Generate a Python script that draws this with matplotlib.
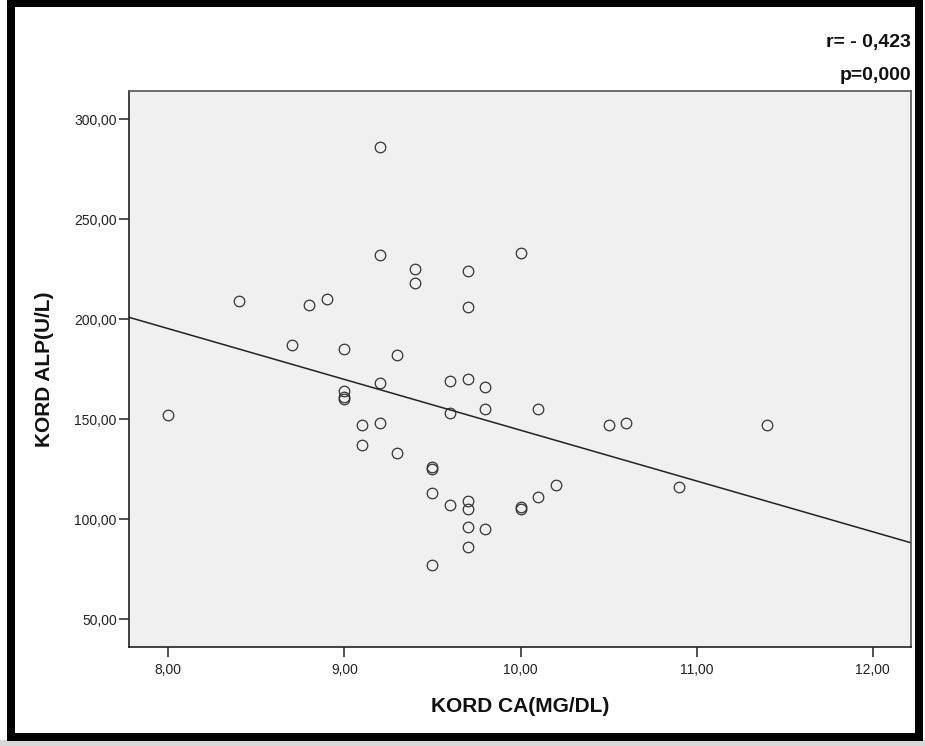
import matplotlib
matplotlib.use("Agg")
import matplotlib.pyplot as plt
from matplotlib.patches import Rectangle
from matplotlib.ticker import FixedLocator, FuncFormatter
import numpy as np

# values (KORD CA vs KORD ALP)
kord_ca = [8.0, 8.4, 8.7, 8.8, 8.9,
           9.0, 9.0, 9.0, 9.0,
           9.1, 9.1,
           9.2, 9.2, 9.2, 9.2,
           9.3, 9.3,
           9.4, 9.4,
           9.5, 9.5, 9.5, 9.5,
           9.6, 9.6, 9.6,
           9.7, 9.7, 9.7, 9.7, 9.7, 9.7, 9.7,
           9.8, 9.8, 9.8,
           10.0, 10.0, 10.0,
           10.1, 10.1,
           10.2, 10.5, 10.6, 10.9, 11.4]
kord_alp = [152, 209, 187, 207, 210,
            185, 164, 161, 160,
            147, 137,
            286, 232, 168, 148,
            182, 133,
            225, 218,
            126, 125, 113, 77,
            169, 153, 107,
            224, 206, 170, 109, 105, 96, 86,
            166, 155, 95,
            233, 106, 105,
            155, 111,
            117, 147, 148, 116, 147]

x_ticks = [8, 9, 10, 11, 12]
y_ticks = [50, 100, 150, 200, 250, 300]
r_text = "r= - 0,423"
p_text = "p=0,000"

plt.rcParams['font.family'] = ['Liberation Sans', 'DejaVu Sans']

fig = plt.figure(figsize=(9.25, 7.46), dpi=100)
fig.patch.set_facecolor('white')

ax = fig.add_axes([0.1398, 0.1323, 0.8454, 0.7461])
ax.set_facecolor('#f0f0f0')

ax.plot(kord_ca, kord_alp, linestyle='none', marker='o', ms=7.6,
        mfc='none', mec='#333333', mew=0.9)

# linear fit line across the whole x range
slope, intercept = np.polyfit(kord_ca, kord_alp, 1)
ax.set_xlim(7.7785, 12.219)
ax.set_ylim(36, 314.2)
xs = np.array(ax.get_xlim())
ax.plot(xs, intercept + slope * xs, color='#222222', lw=1.1)

ax.xaxis.set_major_locator(FixedLocator(x_ticks))
ax.yaxis.set_major_locator(FixedLocator(y_ticks))
fmt = FuncFormatter(lambda v, pos: f"{v:.2f}".replace('.', ','))
ax.xaxis.set_major_formatter(fmt)
ax.yaxis.set_major_formatter(fmt)
ax.tick_params(direction='out', length=7, width=1.1, color='#222222',
               labelsize=10, labelcolor='#222222')
ax.tick_params(axis='x', pad=4)
ax.tick_params(axis='y', pad=2)

for side in ['left', 'bottom']:
    ax.spines[side].set_color('#222222')
    ax.spines[side].set_linewidth(1.2)
for side in ['top', 'right']:
    ax.spines[side].set_color('#555555')
    ax.spines[side].set_linewidth(1.2)

fig.text(520 / 925, 1 - 706 / 746, "KORD CA(MG/DL)", ha='center', va='center',
         fontsize=15, fontweight='bold', color='#111111')
fig.text(45 / 925, 1 - 369 / 746, "KORD ALP(U/L)", ha='center', va='center',
         rotation=90, fontsize=15, fontweight='bold', color='#111111')

fig.text(911 / 925, 1 - 43 / 746, r_text, ha='right', va='center',
         fontsize=14, fontweight='bold', color='#111111')
fig.text(911 / 925, 1 - 75 / 746, p_text, ha='right', va='center',
         fontsize=14, fontweight='bold', color='#111111')

# soft shadow under the frame, then the thick black frame
fig.add_artist(Rectangle((0, 0), 1, 6 / 746, transform=fig.transFigure,
                         facecolor='#d8d8d8', edgecolor='none'))
fig.add_artist(Rectangle((11 / 925, 1 - 737 / 746), 908 / 925, 734 / 746,
                         transform=fig.transFigure, fill=False,
                         edgecolor='black', lw=8 * 0.72))

fig.savefig('out.png', dpi=100)
